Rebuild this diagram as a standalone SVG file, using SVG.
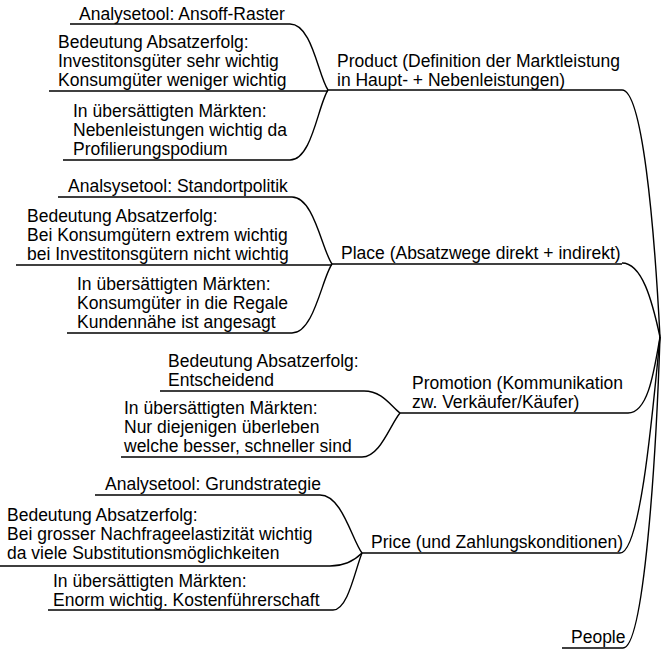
<svg xmlns="http://www.w3.org/2000/svg" width="664" height="652" viewBox="0 0 664 652">
<style>
text{font-family:"Liberation Sans",Arial,sans-serif;font-size:17.5px;fill:#000}
.c{fill:none;stroke:#000;stroke-width:1.4}
</style>
<rect width="664" height="652" fill="#fff"/>
<g id="connectors">
<!-- root to main -->
<path class="c" d="M622,90 C642,90 654,220 660,337"/>
<path class="c" d="M622,263 C642,263 652,300 660,337"/>
<path class="c" d="M628,413 C648,413 654,372 660,337"/>
<path class="c" d="M620,553 C640,553 652,420 660,337"/>
<path class="c" d="M623,648 C644,648 656,460 660,337"/>
<!-- main underlines -->
<path class="c" d="M328,90 H622"/>
<path class="c" d="M332,264 H622"/>
<path class="c" d="M400,413 H628"/>
<path class="c" d="M362,553 H620"/>
<path class="c" d="M562,648 H623"/>
<!-- Product children -->
<path class="c" d="M70,24 H290 C312,24 318,75 328,90"/>
<path class="c" d="M49,91 H328"/>
<path class="c" d="M63,160 H290 C312,160 318,105 328,90"/>
<!-- Place children -->
<path class="c" d="M58,197 H292 C314,197 322,250 332,264"/>
<path class="c" d="M16,265 H332"/>
<path class="c" d="M67,333 H292 C314,333 322,278 332,264"/>
<!-- Promotion children -->
<path class="c" d="M160,391 H364 C382,391 390,405 400,413"/>
<path class="c" d="M121,457 H362 C380,457 390,425 400,413"/>
<!-- Price children -->
<path class="c" d="M95,495 H320 C342,495 352,540 362,553"/>
<path class="c" d="M0,566 H330 C345,566 355,560 362,553"/>
<path class="c" d="M48,610 H333 C348,610 355,570 362,553"/>
</g>
<g id="root"/>
<g id="product">
<text x="337" y="67">Product (Definition der Marktleistung</text>
<text x="337" y="86">in Haupt- + Nebenleistungen)</text>
</g>
<g id="product-analyse"><text x="79" y="20">Analysetool: Ansoff-Raster</text></g>
<g id="product-bedeutung">
<text x="58" y="48">Bedeutung Absatzerfolg:</text>
<text x="58" y="67">Investitonsgüter sehr wichtig</text>
<text x="58" y="86">Konsumgüter weniger wichtig</text>
</g>
<g id="product-markt">
<text x="73" y="117">In übersättigten Märkten:</text>
<text x="73" y="136">Nebenleistungen wichtig da</text>
<text x="73" y="155">Profilierungspodium</text>
</g>
<g id="place"><text x="341" y="259">Place (Absatzwege direkt + indirekt)</text></g>
<g id="place-analyse"><text x="68" y="192">Analsysetool: Standortpolitik</text></g>
<g id="place-bedeutung">
<text x="27" y="222">Bedeutung Absatzerfolg:</text>
<text x="27" y="241">Bei Konsumgütern extrem wichtig</text>
<text x="27" y="260">bei Investitonsgütern nicht wichtig</text>
</g>
<g id="place-markt">
<text x="77" y="290">In übersättigten Märkten:</text>
<text x="77" y="309">Konsumgüter in die Regale</text>
<text x="77" y="328">Kundennähe ist angesagt</text>
</g>
<g id="promotion">
<text x="412" y="389">Promotion (Kommunikation</text>
<text x="412" y="408">zw. Verkäufer/Käufer)</text>
</g>
<g id="promotion-bedeutung">
<text x="168" y="367">Bedeutung Absatzerfolg:</text>
<text x="168" y="386">Entscheidend</text>
</g>
<g id="promotion-markt">
<text x="124" y="414">In übersättigten Märkten:</text>
<text x="124" y="433">Nur diejenigen überleben</text>
<text x="124" y="452">welche besser, schneller sind</text>
</g>
<g id="price"><text x="371" y="548">Price (und Zahlungskonditionen)</text></g>
<g id="price-analyse"><text x="105" y="490">Analysetool: Grundstrategie</text></g>
<g id="price-bedeutung">
<text x="7" y="521">Bedeutung Absatzerfolg:</text>
<text x="7" y="540">Bei grosser Nachfrageelastizität wichtig</text>
<text x="7" y="559">da viele Substitutionsmöglichkeiten</text>
</g>
<g id="price-markt">
<text x="53" y="587">In übersättigten Märkten:</text>
<text x="53" y="606">Enorm wichtig. Kostenführerschaft</text>
</g>
<g id="people"><text x="571" y="643">People</text></g>
</svg>
